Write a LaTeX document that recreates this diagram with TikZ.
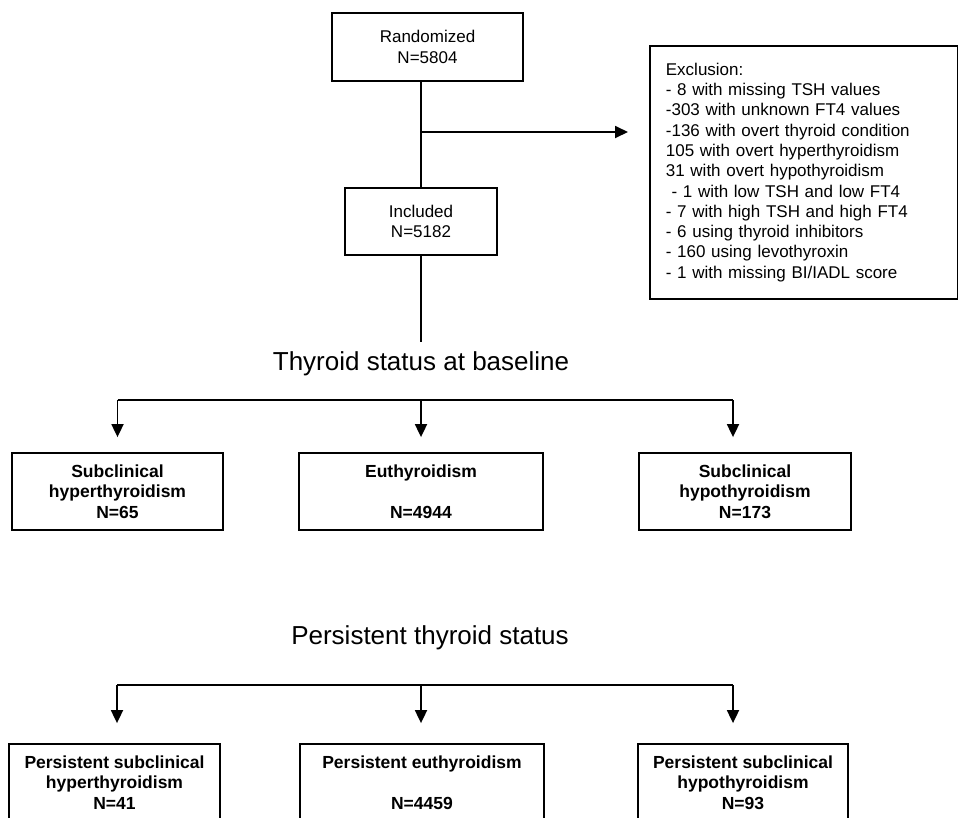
\documentclass[tikz,border=0pt]{standalone}
\usepackage{fontspec}
\setmainfont{Liberation Sans}
\usetikzlibrary{arrows.meta, positioning}

\begin{document}
\begin{tikzpicture}[x=1pt, y=-1pt,
  box/.style={draw, line width=1.8pt, inner sep=0pt, align=center, font=\fontsize{17}{20.5}\selectfont},
  grpbox/.style={box, minimum width=212pt, minimum height=77pt, font=\fontsize{17.5}{20.5}\selectfont\bfseries},
  heading/.style={anchor=base, inner sep=9pt, font=\fontsize{26}{30}\selectfont},
  link/.style={line width=1.8pt},
  arr/.style={link, -{Triangle[length=13pt, width=12pt]}}]
  \useasboundingbox (0,0) rectangle (958,817);

  % Enrolment boxes
  \node[box, minimum width=191pt, minimum height=68pt] (rand) at (427.5,47) {Randomized\\N=5804};
  \node[box, minimum width=152pt, minimum height=67pt] (incl) at (421,221.5) {Included\\N=5182};

  % Exclusion box
  \node[box, anchor=north west, minimum width=308pt, minimum height=253pt, text width=276pt, align=left, inner xsep=16pt, font=\fontsize{17}{20.3}\selectfont] (excl) at (649,45) {
    Exclusion:\\
    - 8 with missing TSH values\\
    -303 with unknown FT4 values\\
    -136 with overt thyroid condition\\
    105 with overt hyperthyroidism\\
    31 with overt hypothyroidism\\
    \ - 1 with low TSH and low FT4\\
    - 7 with high TSH and high FT4\\
    - 6 using thyroid inhibitors\\
    - 160 using levothyroxin\\
    - 1 with missing BI/IADL score
  };

  % Flow to exclusion and baseline
  \draw[link] (rand.south -| incl.north) -- (incl.north);
  \coordinate (split) at (421,132);
  \draw[arr, shorten >=21pt] (split) -- (split -| excl.west);
  \node[heading] (base) at (421,370) {Thyroid status at baseline};
  \draw[link] (incl.south) -- (base.north);

  % Baseline groups
  \node[grpbox, minimum width=211pt] (subhyper) at (117.5,491.5) {Subclinical\\hyperthyroidism\\N=65};
  \node[grpbox, minimum width=244pt] (euthyr) at (421,491.5) {Euthyroidism\\[20.5pt]N=4944};
  \node[grpbox] (subhypo) at (745,491.5) {Subclinical\\hypothyroidism\\N=173};
  \coordinate (bus1) at (421,400);
  \coordinate (hypox) at ([xshift=-12pt]subhypo.north);
  \draw[link] (subhyper.north |- bus1) -- (hypox |- bus1);
  \foreach \tgt in {subhyper, euthyr, hypox}
    \draw[arr, shorten >=15pt] (\tgt |- bus1) -- (\tgt.north);

  % Persistent groups
  \node[heading] (persist) at (430,644) {Persistent thyroid status};
  \node[grpbox, minimum width=211pt] (perhyper) at (114.5,782.5) {Persistent subclinical\\hyperthyroidism\\N=41};
  \node[grpbox, minimum width=244pt] (pereu) at (422,782.5) {Persistent euthyroidism\\[20.5pt]N=4459};
  \node[grpbox, minimum width=210pt] (perhypo) at (743,782.5) {Persistent subclinical\\hypothyroidism\\N=93};
  \coordinate (bus2) at (421,685);
  \coordinate (perhyperx) at ([xshift=2.5pt]perhyper.north);
  \coordinate (perhypox) at ([xshift=-10pt]perhypo.north);
  \draw[link] (perhyperx |- bus2) -- (perhypox |- bus2);
  \foreach \tgt in {perhyperx, bus2, perhypox}
    \draw[arr, shorten >=20pt] (\tgt |- bus2) -- (\tgt |- pereu.north);
\end{tikzpicture}
\end{document}
